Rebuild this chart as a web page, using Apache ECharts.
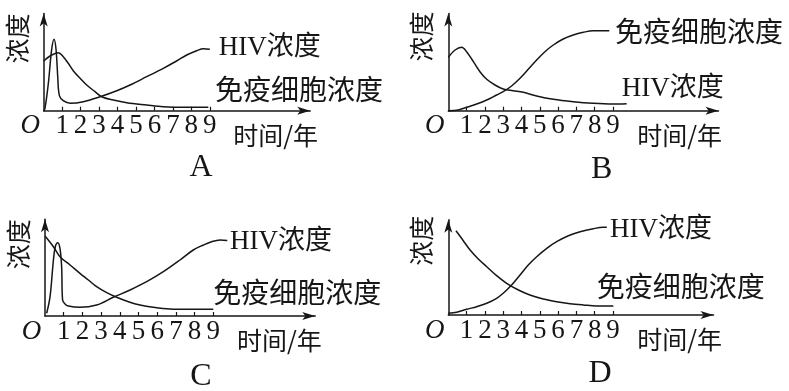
<!DOCTYPE html>
<html><head><meta charset="utf-8">
<script src="https://cdn.jsdelivr.net/npm/echarts@6/dist/echarts.min.js"></script>
<style>html,body{margin:0;padding:0;background:#fff}#c{width:789px;height:391px}</style>
</head><body><div id="c"></div>
<script>
// ---- data (arbitrary concentration units, x in years) ----
const xTicks = [1, 2, 3, 4, 5, 6, 7, 8, 9];
const xLabelValues = [0, 1, 2, 3, 4, 5, 6, 7, 8, 9];
const originLabel = 'O';
const panelLetters = ['A', 'B', 'C', 'D'];
const hivName = 'HIV浓度';
const immuneName = '免疫细胞浓度';
const xName = '时间/年';
const yName = '浓度';

const hivA = [[0,0],[0.07,2.4],[0.25,27],[0.43,61],[0.56,71.4],[0.67,61],[0.76,34],[0.85,15],[1.06,10],[1.43,7.4],[2.15,9],[3.05,14],[3.96,20],[4.68,25.7],[5.58,34],[6.48,42.4],[7.2,49.7],[7.75,55.7],[8.29,60],[8.65,62],[9.0,61.4]];
const immuneA = [[0,49.7],[0.34,54.7],[0.79,58],[1.06,54],[1.33,47.4],[1.6,40],[1.97,32.4],[2.33,25.7],[2.78,19],[3.14,14],[3.77,10.7],[4.5,8],[5.58,5.7],[6.48,4],[7.57,3.4],[8.92,3.4]];

const hivB = [[0,53.3],[0.37,60.7],[0.73,63.4],[1.0,59],[1.37,49],[1.73,39],[2.1,31.4],[2.55,25.7],[3.0,21.7],[3.55,20],[4.1,18.4],[4.83,14.7],[5.74,11.4],[6.83,9],[7.92,7.4],[9.0,6.7],[9.75,7]];
const immuneB = [[0,0],[0.55,0.7],[1.0,3.4],[1.55,6.7],[2.1,10.7],[2.64,15.7],[3.0,19],[3.46,24.7],[3.92,32.4],[4.37,41.4],[4.83,50.7],[5.28,59],[5.74,65.7],[6.28,71.7],[6.83,75.7],[7.38,78.4],[7.92,80],[8.8,80]];

const hivC = [[0.09,2.7],[0.27,19.3],[0.45,56],[0.55,69.3],[0.68,73.3],[0.8,67.7],[0.89,49.3],[0.94,16],[1.07,12],[1.25,10],[1.87,8.7],[2.76,11],[3.65,18.7],[4.55,26],[5.44,34.3],[6.33,44.3],[7.22,56],[7.93,66],[8.47,71],[8.91,74.3],[9.36,76],[9.75,75.5]];
const immuneC = [[0,80],[0.45,69.3],[0.8,59.3],[1.34,51],[1.87,42.7],[2.32,36],[2.76,29.3],[3.3,23.3],[3.83,18.7],[4.46,14.3],[5.08,11],[5.79,8.7],[6.68,7],[7.75,6.7],[9.0,6.7]];

const hivD = [[0,1.7],[0.46,2.7],[1.0,5.7],[1.55,8.3],[2.1,11.7],[2.64,16.7],[3.0,21.7],[3.46,30],[3.92,40],[4.37,50],[4.83,58.3],[5.38,66.7],[5.92,73.3],[6.56,79.3],[7.2,83.3],[7.92,86.3],[8.47,87.7],[8.66,87.7]];
const immuneD = [[0.42,84.3],[0.82,74.3],[1.19,65],[1.64,56],[2.1,48.3],[2.64,39.3],[3.19,31.7],[3.83,25],[4.46,20],[5.19,16],[5.92,13.3],[6.65,11.3],[7.38,10],[8.11,9],[9.02,9]];

// ---- layout ----
const panels = [
  {grid:{left:43.7, top:13.5, width:266.5, height:97.2}, xMax:14.44, hiv:hivA, imm:immuneA, hivOff:[9,-1], immOff:[6.7,-18.3], xGap:7.8, yGap:0, letterPos:[201,168]},
  {grid:{left:448.3, top:13.5, width:270.2, height:97.2}, xMax:14.77, hiv:hivB, imm:immuneB, hivOff:[-5,-14.7], immOff:[5.7,1], xGap:3.5, yGap:2, letterPos:[601.7,170]},
  {grid:{left:45, top:219.2, width:270.2, height:96.8}, xMax:14.45, hiv:hivC, imm:immuneC, hivOff:[2.7,1], immOff:[0,-16.8], xGap:6.5, yGap:0, letterPos:[201,376.5]},
  {grid:{left:448.3, top:219.8, width:265.2, height:95.2}, xMax:14.49, hiv:hivD, imm:immuneD, hivOff:[3.2,2.7], immOff:[-16.7,-20], xGap:8.5, yGap:4, letterPos:[600,374]}
];

const INK = '#161616';
const SERIF = '"Liberation Serif", "Noto Sans CJK SC", serif';
const CJK = '"Noto Sans CJK SC", sans-serif';

function mkSeries(data, i, name, off, fontSize, family) {
  const n = data.length;
  return {
    type: 'line', xAxisIndex: i, yAxisIndex: i, name: name,
    data: data.map((d, k) => k === n - 1 ? {
      value: d,
      label: {show: true, formatter: name, position: 'right', distance: 0, offset: off,
              align: 'left', verticalAlign: 'middle', color: INK, fontSize: fontSize, fontFamily: family}
    } : d),
    smooth: 0.35,
    symbol: 'circle', symbolSize: 0, showSymbol: true, showAllSymbol: true,
    lineStyle: {color: INK, width: 1.5},
    itemStyle: {color: INK},
    silent: true, clip: false,
    emphasis: {disabled: true}
  };
}

const option = {
  animation: false,
  backgroundColor: '#fff',
  grid: panels.map(p => Object.assign({containLabel: false, outerBoundsMode: 'none'}, p.grid)),
  xAxis: panels.map((p, i) => ({
    type: 'value', gridIndex: i, min: 0, max: p.xMax,
    splitLine: {show: false},
    axisLine: {show: true, onZero: false, symbol: ['none', 'arrow'], symbolSize: [6, 13], lineStyle: {color: INK, width: 1.5}},
    axisTick: {show: true, inside: true, length: 4, customValues: xTicks, lineStyle: {color: INK, width: 1.2}},
    axisLabel: {
      show: true, customValues: xLabelValues, margin: 2, hideOverlap: false,
      color: INK, fontFamily: SERIF, fontSize: 27,
      formatter: v => v === 0 ? '{o|' + originLabel + '}' : String(v),
      rich: {o: {fontStyle: 'italic', fontFamily: SERIF, fontSize: 27, color: INK, padding: [0, 27, 0, 0]}}
    },
    name: xName, nameLocation: 'end', nameGap: p.xGap, nameMoveOverlap: false,
    nameTextStyle: {fontFamily: CJK, fontSize: 25, color: INK, align: 'right', verticalAlign: 'top', padding: [12, 0, 0, 0]}
  })),
  yAxis: panels.map((p, i) => ({
    type: 'value', gridIndex: i, min: 0, max: p.grid.height,
    splitLine: {show: false}, axisTick: {show: false}, axisLabel: {show: false},
    axisLine: {show: true, onZero: false, symbol: ['none', 'arrow'], symbolSize: [6, 13], lineStyle: {color: INK, width: 1.5}},
    name: yName, nameLocation: 'end', nameRotate: 90, nameGap: p.yGap, nameMoveOverlap: false,
    nameTextStyle: {fontFamily: CJK, fontSize: 25, color: INK, align: 'right', verticalAlign: 'bottom', padding: [0, 0, 14, 0]}
  })),
  series: panels.flatMap((p, i) => [
    mkSeries(p.hiv, i, hivName, p.hivOff, 27, SERIF),
    mkSeries(p.imm, i, immuneName, p.immOff, 28, CJK)
  ]),
  graphic: panels.map((p, i) => ({
    type: 'text', x: p.letterPos[0], y: p.letterPos[1], silent: true,
    style: {text: panelLetters[i], fill: INK, font: '32px "Liberation Serif", serif', align: 'center', verticalAlign: 'middle'}
  }))
};

const chart = echarts.init(document.getElementById('c'), null, {renderer: 'canvas'});
chart.setOption(option);
</script>
</body></html>
